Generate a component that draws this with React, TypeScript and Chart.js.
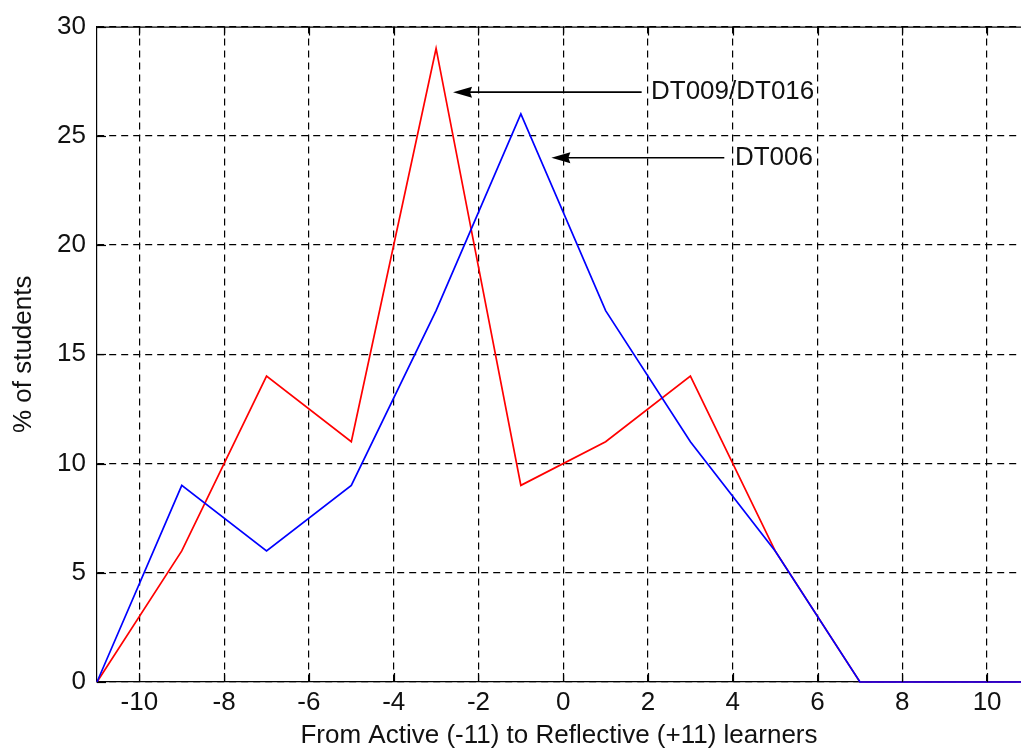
import React, { useEffect, useRef } from 'react';
import { Chart, registerables } from 'chart.js';
Chart.register(...registerables);

const xValues = [-11, -9, -7, -5, -3, -1, 1, 3, 5, 7, 9, 11];
const dt006 = [0, 9, 6, 9, 17, 26, 17, 11, 6, 0, 0, 0];
const dt009 = [0, 6, 14, 11, 29, 9, 11, 14, 6, 0, 0, 0];
const xTicks = [-10, -8, -6, -4, -2, 0, 2, 4, 6, 8, 10];
const yTicks = [0, 5, 10, 15, 20, 25, 30];
const annotationLabels = ['DT009/DT016', 'DT006'];
const annotationY = [27, 24];
const arrowTipX = [-2.6, -0.28];
const arrowTailX = [1.85, 3.8];
const labelX = [2.07, 4.05];

const FONT = '"Liberation Sans", Arial, sans-serif';

const overlayPlugin = {
  id: 'overlay',
  afterDatasetsDraw(chart: any) {
    const { ctx, chartArea, scales } = chart;
    const xs = scales.x;
    const ys = scales.y;
    ctx.save();
    ctx.strokeStyle = '#000';
    ctx.lineWidth = 1.2;
    ctx.beginPath();
    ctx.moveTo(chartArea.left, chartArea.top + 0.5);
    ctx.lineTo(chartArea.right, chartArea.top + 0.5);
    ctx.stroke();
    const tl = 9;
    xTicks.forEach((v) => {
      const px = Math.round(xs.getPixelForValue(v)) + 0.5;
      ctx.beginPath();
      ctx.moveTo(px, chartArea.bottom);
      ctx.lineTo(px, chartArea.bottom - tl);
      ctx.moveTo(px, chartArea.top);
      ctx.lineTo(px, chartArea.top + tl);
      ctx.stroke();
    });
    yTicks.forEach((v) => {
      const py = Math.round(ys.getPixelForValue(v)) + 0.5;
      ctx.beginPath();
      ctx.moveTo(chartArea.left, py);
      ctx.lineTo(chartArea.left + tl, py);
      ctx.stroke();
    });
    annotationLabels.forEach((label, i) => {
      const y = ys.getPixelForValue(annotationY[i]);
      const tip = xs.getPixelForValue(arrowTipX[i]);
      const tail = xs.getPixelForValue(arrowTailX[i]);
      ctx.strokeStyle = '#000';
      ctx.fillStyle = '#000';
      ctx.lineWidth = 1.6;
      ctx.beginPath();
      ctx.moveTo(tail, y);
      ctx.lineTo(tip + 10, y);
      ctx.stroke();
      ctx.beginPath();
      ctx.moveTo(tip, y);
      ctx.lineTo(tip + 19, y - 5.5);
      ctx.lineTo(tip + 17, y);
      ctx.lineTo(tip + 19, y + 5.5);
      ctx.closePath();
      ctx.fill();
      ctx.font = `26px ${FONT}`;
      ctx.fillStyle = '#111';
      ctx.textAlign = 'left';
      ctx.textBaseline = 'middle';
      ctx.fillText(label, xs.getPixelForValue(labelX[i]), y);
    });
    ctx.restore();
  },
};

export default function App() {
  const ref = useRef<HTMLCanvasElement | null>(null);
  useEffect(() => {
    document.body.style.margin = '0';
    const canvas = ref.current;
    if (!canvas) return;
    const chart = new Chart(canvas, {
      type: 'line',
      data: {
        labels: xValues,
        datasets: [
          {
            label: 'DT006',
            data: xValues.map((x, i) => ({ x, y: dt006[i] })),
            borderColor: '#0000ff',
            borderWidth: 1.7,
            pointRadius: 0,
            tension: 0,
            fill: false,
            order: 1,
            clip: false as any,
          },
          {
            label: 'DT009/DT016',
            data: xValues.map((x, i) => ({ x, y: dt009[i] })),
            borderColor: '#ff0000',
            borderWidth: 1.7,
            pointRadius: 0,
            tension: 0,
            fill: false,
            order: 2,
            clip: false as any,
          },
        ],
      },
      options: {
        animation: false,
        responsive: false,
        maintainAspectRatio: false,
        layout: { padding: { top: 22, left: 0, right: 0, bottom: 0 } },
        plugins: {
          legend: { display: false },
          tooltip: { enabled: false },
        },
        scales: {
          x: {
            type: 'linear',
            min: -11,
            max: 10.8,
            afterBuildTicks: (axis: any) => {
              axis.ticks = xTicks.map((v) => ({ value: v }));
            },
            afterFit: (axis: any) => {
              axis.height = 70;
            },
            grid: {
              color: '#000',
              lineWidth: 1.2,
              drawTicks: false,
            },
            border: { display: true, color: '#000', width: 1.2, dash: [7, 5] } as any,
            ticks: {
              padding: 5,
              color: '#111',
              font: { family: FONT, size: 26 },
              maxRotation: 0,
              autoSkip: false,
            },
            title: {
              display: true,
              text: 'From Active (-11) to Reflective (+11) learners',
              color: '#111',
              font: { family: FONT, size: 26 },
              padding: { top: 0, bottom: 1 },
            },
          },
          y: {
            type: 'linear',
            min: 0,
            max: 30,
            afterBuildTicks: (axis: any) => {
              axis.ticks = yTicks.map((v) => ({ value: v }));
            },
            afterFit: (axis: any) => {
              axis.width = 97;
            },
            grid: {
              color: '#000',
              lineWidth: 1.2,
              drawTicks: false,
            },
            border: { display: true, color: '#000', width: 1.2, dash: [7, 5] } as any,
            ticks: {
              padding: 11,
              color: '#111',
              font: { family: FONT, size: 26 },
              autoSkip: false,
            },
            title: {
              display: true,
              text: '% of students',
              color: '#111',
              font: { family: FONT, size: 26 },
              padding: { top: 8, bottom: 0 },
            },
          },
        },
      },
      plugins: [overlayPlugin],
    });
    return () => chart.destroy();
  }, []);
  return (
    <div style={{ width: 1021, height: 752 }}>
      <canvas ref={ref} width={1021} height={752} style={{ display: 'block' }} />
    </div>
  );
}
